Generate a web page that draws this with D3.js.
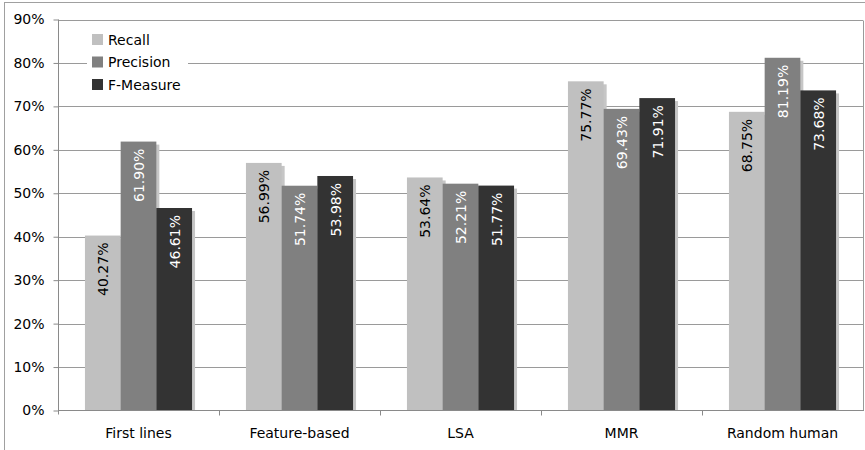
<!DOCTYPE html>
<html>
<head>
<meta charset="utf-8">
<script src="https://cdn.jsdelivr.net/npm/d3@7"></script>
<style>
  html, body { margin: 0; padding: 0; background: #fff; }
  svg { display: block; font-family: "DejaVu Sans", Verdana, sans-serif; }
</style>
</head>
<body>
<svg id="chart" width="865" height="450"></svg>
<script>
// Summary evaluation scores (%) per method
const categories = ["First lines", "Feature-based", "LSA", "MMR", "Random human"];
const seriesNames = ["Recall", "Precision", "F-Measure"];
const recall    = [40.27, 56.99, 53.64, 75.77, 68.75];
const precision = [61.90, 51.74, 52.21, 69.43, 81.19];
const fmeasure  = [46.61, 53.98, 51.77, 71.91, 73.68];
const yTicks = [0, 10, 20, 30, 40, 50, 60, 70, 80, 90];

const seriesValues = [recall, precision, fmeasure];
const fills = ["#c0c0c0", "#808080", "#333333"];
const labelFills = ["#000", "#fff", "#fff"];

const svg = d3.select("#chart");
const plotLeft = 58, plotRight = 863, plotTop = 19.5, plotBottom = 410.5;

// outer frame
svg.append("rect")
  .attr("x", 4.5).attr("y", 2.5).attr("width", 900).attr("height", 500)
  .attr("fill", "none").attr("stroke", "#a0a0a0").attr("stroke-width", 1);

const x0 = d3.scaleBand().domain(categories).range([plotLeft, plotRight]).paddingInner(0).paddingOuter(0);
const x1 = d3.scaleBand().domain(seriesNames).range([0, x0.bandwidth()]).paddingInner(0).paddingOuter(0.755);
const y = d3.scaleLinear().domain([0, 90]).range([plotBottom, plotTop]);

// horizontal gridlines
svg.append("g").selectAll("line").data(yTicks.filter(d => d > 0)).join("line")
  .attr("x1", plotLeft).attr("x2", plotRight)
  .attr("y1", d => Math.round(y(d)) + 0.5).attr("y2", d => Math.round(y(d)) + 0.5)
  .attr("stroke", "#9a9a9a").attr("stroke-width", 1);

// right edge of plot area
svg.append("line")
  .attr("x1", plotRight + 0.5).attr("x2", plotRight + 0.5)
  .attr("y1", Math.round(y(90)) + 0.5).attr("y2", plotBottom)
  .attr("stroke", "#9a9a9a");

const rows = categories.map((c, i) => seriesNames.map((s, j) => ({ cat: c, series: s, j, value: seriesValues[j][i] })));
const groups = svg.append("g").selectAll("g").data(rows).join("g")
  .attr("transform", (d, i) => `translate(${x0(categories[i])},0)`);

// drop shadows
groups.selectAll("rect.shadow").data(d => d).join("rect")
  .attr("class", "shadow")
  .attr("x", d => x1(d.series) + 3)
  .attr("y", d => y(d.value) + 3)
  .attr("width", x1.bandwidth())
  .attr("height", d => Math.max(0, plotBottom - y(d.value) - 3))
  .attr("fill", "#c6c6c6");

// bars
groups.selectAll("rect.bar").data(d => d).join("rect")
  .attr("class", "bar")
  .attr("x", d => x1(d.series))
  .attr("y", d => y(d.value))
  .attr("width", x1.bandwidth())
  .attr("height", d => plotBottom - y(d.value))
  .attr("fill", d => fills[d.j]);

// value labels, rotated inside the bars
groups.selectAll("text.val").data(d => d).join("text")
  .attr("class", "val")
  .attr("transform", d => `translate(${x1(d.series) + x1.bandwidth() / 2 + 0.5},${y(d.value) + 7}) rotate(-90)`)
  .attr("text-anchor", "end")
  .attr("dy", "0.36em")
  .attr("font-size", 14)
  .attr("fill", d => labelFills[d.j])
  .text(d => d.value.toFixed(2) + "%");

// y axis
const yAxis = svg.append("g").attr("transform", `translate(${plotLeft + 0.5},0)`)
  .call(d3.axisLeft(y).tickValues(yTicks).tickFormat(d => d + "%").tickSize(5).tickSizeOuter(0));
yAxis.select(".domain").attr("stroke", "#8a8a8a").attr("d", `M0,${y(90)}V${plotBottom + 4}`);
yAxis.selectAll(".tick line").attr("stroke", "#8a8a8a");
yAxis.selectAll(".tick text").attr("font-size", 14).attr("font-family", "DejaVu Sans, Verdana, sans-serif")
  .attr("fill", "#000").attr("x", -14);

// x axis with ticks at category boundaries
const xAxis = svg.append("g").attr("transform", `translate(0,${plotBottom})`);
xAxis.append("line").attr("x1", plotLeft).attr("x2", plotRight + 1).attr("y1", 0).attr("y2", 0).attr("stroke", "#8a8a8a");
xAxis.selectAll("line.tk").data(categories.slice(1)).join("line")
  .attr("class", "tk")
  .attr("x1", d => Math.round(x0(d)) + 0.5).attr("x2", d => Math.round(x0(d)) + 0.5)
  .attr("y1", 0).attr("y2", 5).attr("stroke", "#8a8a8a");
xAxis.selectAll("text").data(categories).join("text")
  .attr("x", d => x0(d) + x0.bandwidth() / 2)
  .attr("y", 27)
  .attr("text-anchor", "middle")
  .attr("font-size", 14)
  .attr("fill", "#000")
  .text(d => d);

// legend
const legend = svg.append("g");
legend.append("rect").attr("x", 87).attr("y", 26).attr("width", 101).attr("height", 72).attr("fill", "#fff");
const li = legend.selectAll("g").data(seriesNames).join("g")
  .attr("transform", (d, i) => `translate(92,${34 + i * 22.5})`);
li.append("rect").attr("width", 11).attr("height", 11).attr("fill", (d, i) => fills[i]);
li.append("text").attr("x", 16).attr("y", 5.5).attr("dy", "0.36em")
  .attr("font-size", 14).attr("fill", "#000").text(d => d);
</script>
</body>
</html>
